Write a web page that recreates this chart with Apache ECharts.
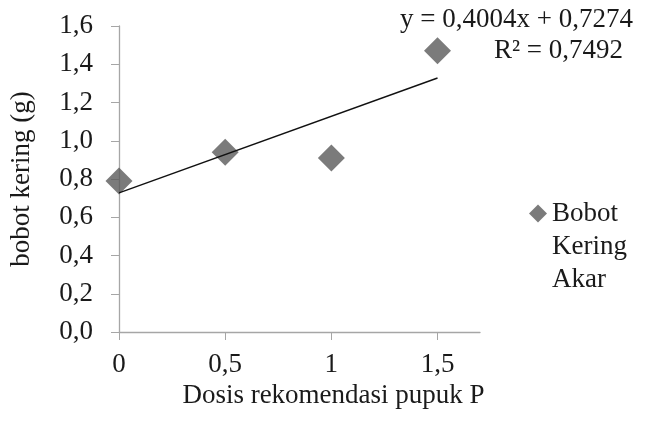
<!DOCTYPE html>
<html>
<head>
<meta charset="utf-8">
<script src="https://cdn.jsdelivr.net/npm/echarts@6/dist/echarts.min.js"></script>
<style>html,body{margin:0;padding:0;background:#fff}#c{width:648px;height:423px}</style>
</head>
<body>
<div id="c"></div>
<script>
var dosis = [0, 0.5, 1, 1.5];
var bobotKering = [0.79, 0.94, 0.91, 1.47];
var trendX = [0, 1.5];
var trendY = [0.7274, 1.3280];
var yTicks = [0, 0.2, 0.4, 0.6, 0.8, 1.0, 1.2, 1.4, 1.6];
var xTicks = [0, 0.5, 1, 1.5];
var seriesName = 'Bobot Kering Akar';
var eqText = 'y = 0,4004x + 0,7274';
var r2Text = 'R\u00B2 = 0,7492';

var FONT = '"Liberation Serif", "Times New Roman", serif';
var FS = 27;
var chart = echarts.init(document.getElementById('c'), null, {renderer: 'canvas'});
chart.setOption({
  animation: false,
  backgroundColor: '#ffffff',
  grid: {left: 117, right: 168, top: 26, bottom: 91, containLabel: false},
  xAxis: {
    type: 'value', min: 0, max: 1.7,
    name: 'Dosis rekomendasi pupuk P', nameLocation: 'middle', nameGap: 42,
    nameTextStyle: {fontFamily: FONT, fontSize: FS, color: '#1a1a1a', padding: [0, 0, 0, 68]},
    axisLine: {show: true, lineStyle: {color: '#a6a6a6', width: 1.3}},
    axisTick: {show: true, length: 8, lineStyle: {color: '#a6a6a6'}, customValues: xTicks},
    axisLabel: {fontFamily: FONT, fontSize: FS, color: '#1a1a1a', margin: 19, customValues: xTicks,
      formatter: function (v) { return String(v).replace('.', ','); }},
    splitLine: {show: false}
  },
  yAxis: {
    type: 'value', min: 0, max: 1.6, interval: 0.2,
    name: 'bobot kering (g)', nameLocation: 'middle', nameGap: 84,
    nameTextStyle: {fontFamily: FONT, fontSize: FS, color: '#1a1a1a'},
    axisLine: {show: true, lineStyle: {color: '#a6a6a6', width: 1.3}},
    axisTick: {show: true, length: 8, lineStyle: {color: '#a6a6a6'}, customValues: yTicks},
    axisLabel: {fontFamily: FONT, fontSize: FS, color: '#1a1a1a', margin: 26, customValues: yTicks,
      formatter: function (v) { return v.toFixed(1).replace('.', ','); }},
    splitLine: {show: false}
  },
  legend: {
    data: [seriesName], left: 529, top: 131, orient: 'vertical', padding: 0,
    itemWidth: 18, itemHeight: 18, itemGap: 5,
    icon: 'diamond',
    formatter: function () { return '\n\nBobot\nKering\nAkar'; },
    textStyle: {fontFamily: FONT, fontSize: FS, color: '#1a1a1a', lineHeight: 33}
  },
  graphic: [
    {type: 'text', right: 15, top: 6, style: {text: eqText, font: FS + 'px ' + FONT, fill: '#1a1a1a'}},
    {type: 'text', right: 25, top: 37, style: {text: r2Text, font: FS + 'px ' + FONT, fill: '#1a1a1a'}}
  ],
  series: [
    {
      name: seriesName, type: 'scatter', symbol: 'diamond', symbolSize: 27,
      itemStyle: {color: '#5a5a5a'},
      data: dosis.map(function (x, i) { return [x, bobotKering[i]]; }), z: 2
    },
    {
      name: 'trend', type: 'line', showSymbol: false, symbol: 'none',
      lineStyle: {color: '#111111', width: 1.4},
      data: trendX.map(function (x, i) { return [x, trendY[i]]; }), z: 3
    }
  ]
});
</script>
</body>
</html>
